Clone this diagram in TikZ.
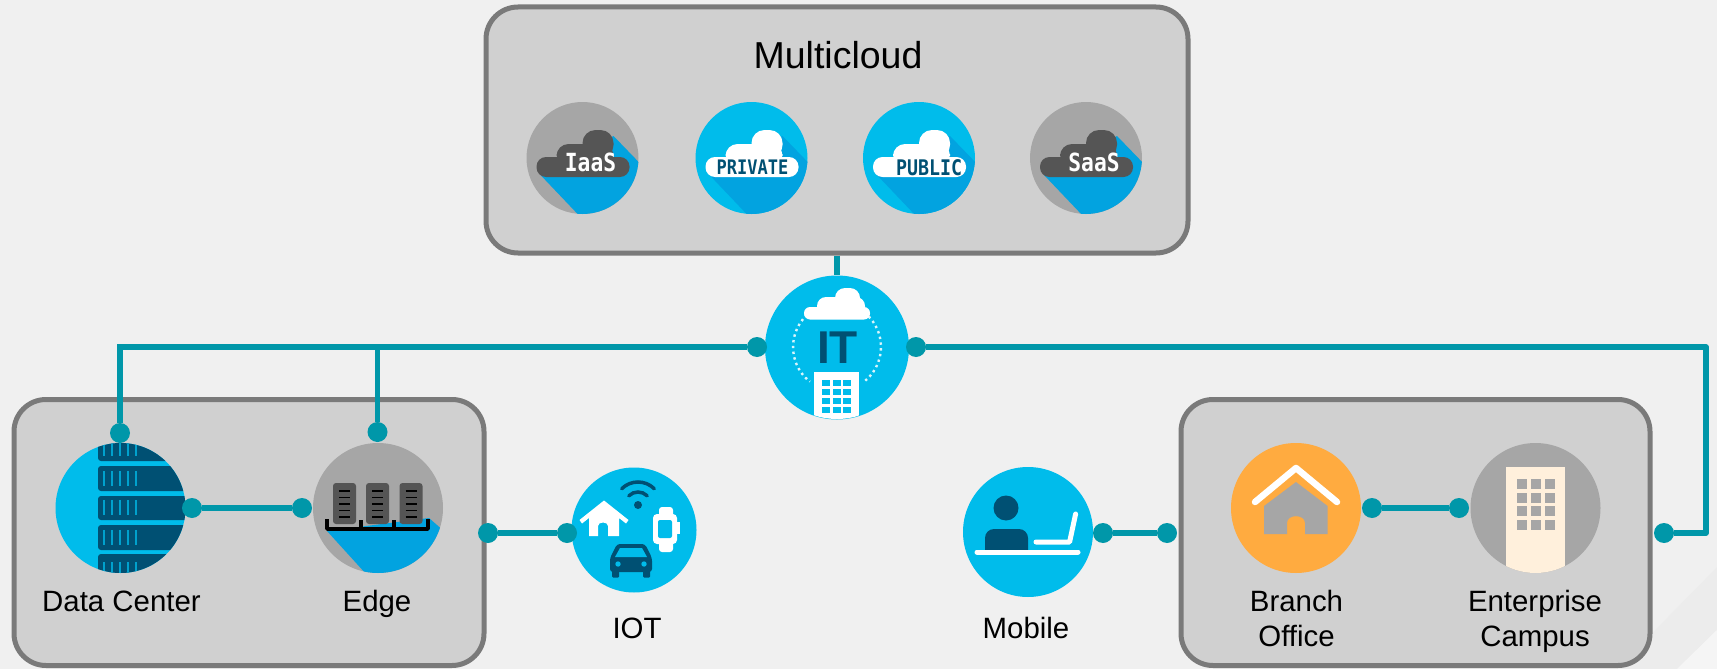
\documentclass[tikz,border=0pt]{standalone}
\usepackage{fontspec}
\usepackage{xcolor}
\setmainfont{Liberation Sans}
\newfontfamily\monob{DejaVu Sans Mono}[BoldFont=* Bold,FakeStretch=0.85]
\definecolor{bgc}{HTML}{F0F0F0}
\definecolor{boxc}{HTML}{D0D0D0}
\definecolor{edgec}{HTML}{7A7A7A}
\definecolor{teal}{HTML}{0097A9}
\definecolor{cyanc}{HTML}{00BCEB}
\definecolor{shadec}{HTML}{02A3E0}
\definecolor{navyc}{HTML}{005073}
\definecolor{greyc}{HTML}{A6A6A6}
\definecolor{darkc}{HTML}{555555}
\definecolor{orangec}{HTML}{FFAB40}
\definecolor{creamc}{HTML}{FFF0DC}
\newcommand{\cloudshape}[1]{%
  \fill[#1,rounded corners=9.5pt] (-46,-1) rectangle (47,19);
  \fill[#1,rounded corners=12pt] (-26,-14) rectangle (31,8);
  \fill[#1,rounded corners=13pt] (0,-28) rectangle (31,0);}
\newcommand{\longshade}{%
  \fill[shadec] (-42,17) -- (-3,58) -- (60,58) -- (60,8) -- (31,-22) -- cycle;}

\begin{document}
\begin{tikzpicture}[x=1pt,y=-1pt,
  cbox/.style={draw=edgec,fill=boxc,line width=5pt,rounded corners=32pt,inner sep=0pt},
  disc/.style={circle,inner sep=0pt,minimum size=130pt},
  badge/.style={circle,inner sep=0pt,minimum size=112pt},
  dot/.style={circle,fill=teal,inner sep=0pt,minimum size=20pt},
  link/.style={teal,line width=5.5pt},
  lbl/.style={font=\fontsize{29.4}{34}\selectfont,align=center,inner sep=0pt,anchor=base},
  ttl/.style={font=\fontsize{37.5}{40}\selectfont,inner sep=0pt}]
  \useasboundingbox (0,0) rectangle (1717,669);
  \fill[bgc] (0,0) rectangle (1717,669);
  \fill[black!1.5!bgc] (1717,567) -- (1717,630) -- (1677,669) -- (1617,669) -- cycle;
  \fill[white!35!bgc] (1717,630) -- (1717,669) -- (1677,669) -- cycle;

  % the three boxes
  \node[cbox,minimum width=702pt,minimum height=246pt] (multibox) at (837,130) {};
  \node[cbox,minimum width=470pt,minimum height=266pt] (dcbox) at (249,532.5) {};
  \node[cbox,minimum width=469pt,minimum height=266pt] (branchbox) at (1415.5,532.5) {};
  \node[ttl] (multitxt) at (838,55) {Multicloud};

  % multicloud badges
  \node[badge,fill=greyc] (iaas) at (582.5,158) {};
  \begin{scope}[shift={(582.5,158)}]
    \clip (0,0) circle (56);
    \longshade
    \cloudshape{darkc}
  \end{scope}
  \node[badge,fill=cyanc] (private) at (751.5,158) {};
  \begin{scope}[shift={(751.5,158)}]
    \clip (0,0) circle (56);
    \longshade
    \cloudshape{white}
  \end{scope}
  \node[badge,fill=cyanc] (public) at (919,158) {};
  \begin{scope}[shift={(919,158)}]
    \clip (0,0) circle (56);
    \longshade
    \cloudshape{white}
  \end{scope}
  \node[badge,fill=greyc] (saas) at (1086,158) {};
  \begin{scope}[shift={(1086,158)}]
    \clip (0,0) circle (56);
    \longshade
    \cloudshape{darkc}
  \end{scope}
  \node[white,font=\monob\bfseries\fontsize{25}{25}\selectfont,inner sep=0pt] (iaastxt) at (590.5,162) {IaaS};
  \node[white,font=\monob\bfseries\fontsize{25}{25}\selectfont,inner sep=0pt] (saastxt) at (1094,162) {SaaS};
  \node[navyc,font=\monob\bfseries\fontsize{20}{20}\selectfont,inner sep=0pt] (privtxt) at (752.5,167.5) {PRIVATE};
  \node[navyc,font=\monob\bfseries\fontsize{21.5}{21}\selectfont,inner sep=0pt] (pubtxt) at (929,167.5) {PUBLIC};

  % IT hub
  \node[circle,inner sep=0pt,minimum size=144pt,fill=cyanc] (it) at (837,347.5) {};
  \draw[white!85!cyanc,line width=2.4pt,dash pattern=on 2.4pt off 3.4pt] (837,347) ++(-50:44) arc (-50:-232:44);
  \draw[white!85!cyanc,line width=2.4pt,dash pattern=on 2.4pt off 3.4pt] (837,347) ++(50:44) arc (50:-50:44);
  \begin{scope}[shift={(837,347)}]
    \clip (0,0) circle (72);
    \fill[white] (-23,24.5) rectangle (22,72);
    \foreach \cx in {-14.7,-4.3,6}
      \foreach \cy in {33,42,51,59.5}
        \fill[cyanc] (\cx,\cy) rectangle ++(8,6);
  \end{scope}
  \fill[white,rounded corners=6pt] (804,307) rectangle (870,319.5);
  \fill[white,rounded corners=9pt] (817,297) rectangle (865,317);
  \fill[white,rounded corners=10pt] (835,288) rectangle (860,310);
  \node[navyc,font=\bfseries\fontsize{46}{46}\selectfont,inner sep=0pt] (ittxt) at (837.5,347.5) {IT};

  % data center
  \node[disc,fill=cyanc] (dc) at (120.5,508) {};
  \begin{scope}
    \clip (120.5,508) circle (65);
    \foreach \ya/\yb in {436/461,466/491,496/520,525/550,554/582}{
      \fill[navyc,rounded corners=3pt] (98,\ya) rectangle (200,\yb);
      \foreach \tx in {103,111,119,127,135}
        \fill[cyanc!75!navyc] (\tx,\yb-20) rectangle ++(2.4,15);
    }
  \end{scope}

  % edge
  \node[disc,fill=greyc] (edge) at (378,508) {};
  \begin{scope}
    \clip (378,508) circle (65);
    \fill[shadec] (327,531) -- (367,575) -- (445,575) -- (445,532) -- (429,518) -- cycle;
  \end{scope}
  \foreach \sx in {333,366,399.5}{
    \fill[darkc,rounded corners=3pt] (\sx,483) rectangle ++(23,41);
    \foreach \sy in {491,497.5,504,510.5,517}
      \draw[black,line width=1.3pt] (\sx+6,\sy) -- ++(11,0);
  }
  \draw[black,line width=3.5pt,line join=round] (327,519) -- (327,529) -- (428,529) -- (428,519)
    (361,520) -- (361,529) (394,520) -- (394,529);

  % IOT
  \node[circle,inner sep=0pt,minimum size=125pt,fill=cyanc] (iot) at (634,530) {};
  \fill[white] (604,500.5) -- (628.5,520) -- (626,523.5) -- (619,518) -- (619,536) -- (608,536) -- (608,526)
    to[out=90,in=90,looseness=1.2] (598,526) -- (598,536) -- (589,536) -- (589,518) -- (582,523.5) -- (579.5,520) -- cycle;
  \fill[navyc] (638,505) circle (4);
  \draw[navyc,line width=3.5pt,line cap=round] (638,505) ++(-45:13) arc (-45:-135:13);
  \draw[navyc,line width=3.5pt,line cap=round] (638,505) ++(-45:23) arc (-45:-135:23);
  \fill[white,rounded corners=3pt] (659,507) rectangle (673,552);
  \fill[white,rounded corners=4pt] (653,514) rectangle (677,544);
  \fill[white] (677,522) rectangle (680,534);
  \fill[cyanc,rounded corners=2pt] (658,520) rectangle (672,538);
  \fill[navyc,rounded corners=3pt] (610,558) -- (617,544) -- (645,544) -- (652,558) -- (652,572) -- (610,572) -- cycle;
  \fill[navyc,rounded corners=1pt] (612,570) rectangle (619,577.5);
  \fill[navyc,rounded corners=1pt] (643,570) rectangle (650,577.5);
  \fill[cyanc] (615,557) -- (620,548) -- (642,548) -- (647,557) -- cycle;
  \fill[cyanc] (618,564) circle (2.7);
  \fill[cyanc] (644,564) circle (2.7);

  % mobile
  \node[circle,inner sep=0pt,minimum size=130pt,fill=cyanc] (mobile) at (1028,532) {};
  \fill[navyc] (1006,508) circle (12.5);
  \fill[navyc] (985,552) {[rounded corners=9pt] -- (985,529) -- (1028,529)} -- (1028,552) -- cycle;
  \draw[white,line width=5pt,line cap=round] (977,552) -- (1078,552);
  \draw[white,line width=5pt,line cap=round,line join=round] (1036,542) -- (1069.6,542) -- (1075.6,514);

  % branch
  \node[disc,fill=orangec] (branch) at (1296,508) {};
  \fill[greyc] (1296,482) -- (1327.6,506) -- (1327.6,534) -- (1305,534) -- (1305,523)
    to[out=90,in=90,looseness=1.3] (1287,523) -- (1287,534) -- (1264,534) -- (1264,506) -- cycle;
  \draw[white,line width=6.5pt,line cap=round,line join=round] (1255,502) -- (1296,468) -- (1337,502);

  % enterprise
  \node[disc,fill=greyc] (campus) at (1535.5,508) {};
  \begin{scope}
    \clip (1535.5,508) circle (65);
    \fill[creamc] (1505.5,466.5) rectangle (1565,580);
  \end{scope}
  \foreach \wx in {1516.5,1530.5,1544.5}
    \foreach \wy in {479,493,506,520}
      \fill[greyc] (\wx,\wy) rectangle ++(10,10);

  % labels
  \node[lbl] (dctxt) at (121.5,611) {Data Center};
  \node[lbl] (edgetxt) at (377,611) {Edge};
  \node[lbl] (iottxt) at (637,638) {IOT};
  \node[lbl] (mobtxt) at (1026,638) {Mobile};
  \node[lbl] (brtxt) at (1296.5,611) {Branch};
  \node[lbl] (oftxt) at (1296.5,646) {Office};
  \node[lbl] (entxt) at (1535,611) {Enterprise};
  \node[lbl] (camptxt) at (1535,646) {Campus};

  % connectors
  \node[dot] (itL) at (757,347) {};
  \node[dot] (itR) at (916,347) {};
  \node[dot] (dcT) at (120,433) {};
  \node[dot] (edgeT) at (377.5,432) {};
  \node[dot] (dcR) at (192,508) {};
  \node[dot] (edgeL) at (302,508) {};
  \node[dot] (boxR) at (488,533) {};
  \node[dot] (iotL) at (567,533) {};
  \node[dot] (mobR) at (1103,533) {};
  \node[dot] (brboxL) at (1167,533) {};
  \node[dot] (brR) at (1372,508) {};
  \node[dot] (campL) at (1459,508) {};
  \node[dot] (brboxR) at (1664,533) {};
  \coordinate (rightbend) at (1706,347);
  \draw[link] (multibox.south) -- (it.north);
  \draw[link,line join=miter] (itL) -| (dcT);
  \draw[link] (edgeT) -- (edgeT |- itL);
  \draw[link,line join=round] (itR) -- (rightbend) |- (brboxR);
  \draw[link] (dcR) -- (edgeL);
  \draw[link] (boxR) -- (iotL);
  \draw[link] (mobR) -- (brboxL);
  \draw[link] (brR) -- (campL);
\end{tikzpicture}
\end{document}
